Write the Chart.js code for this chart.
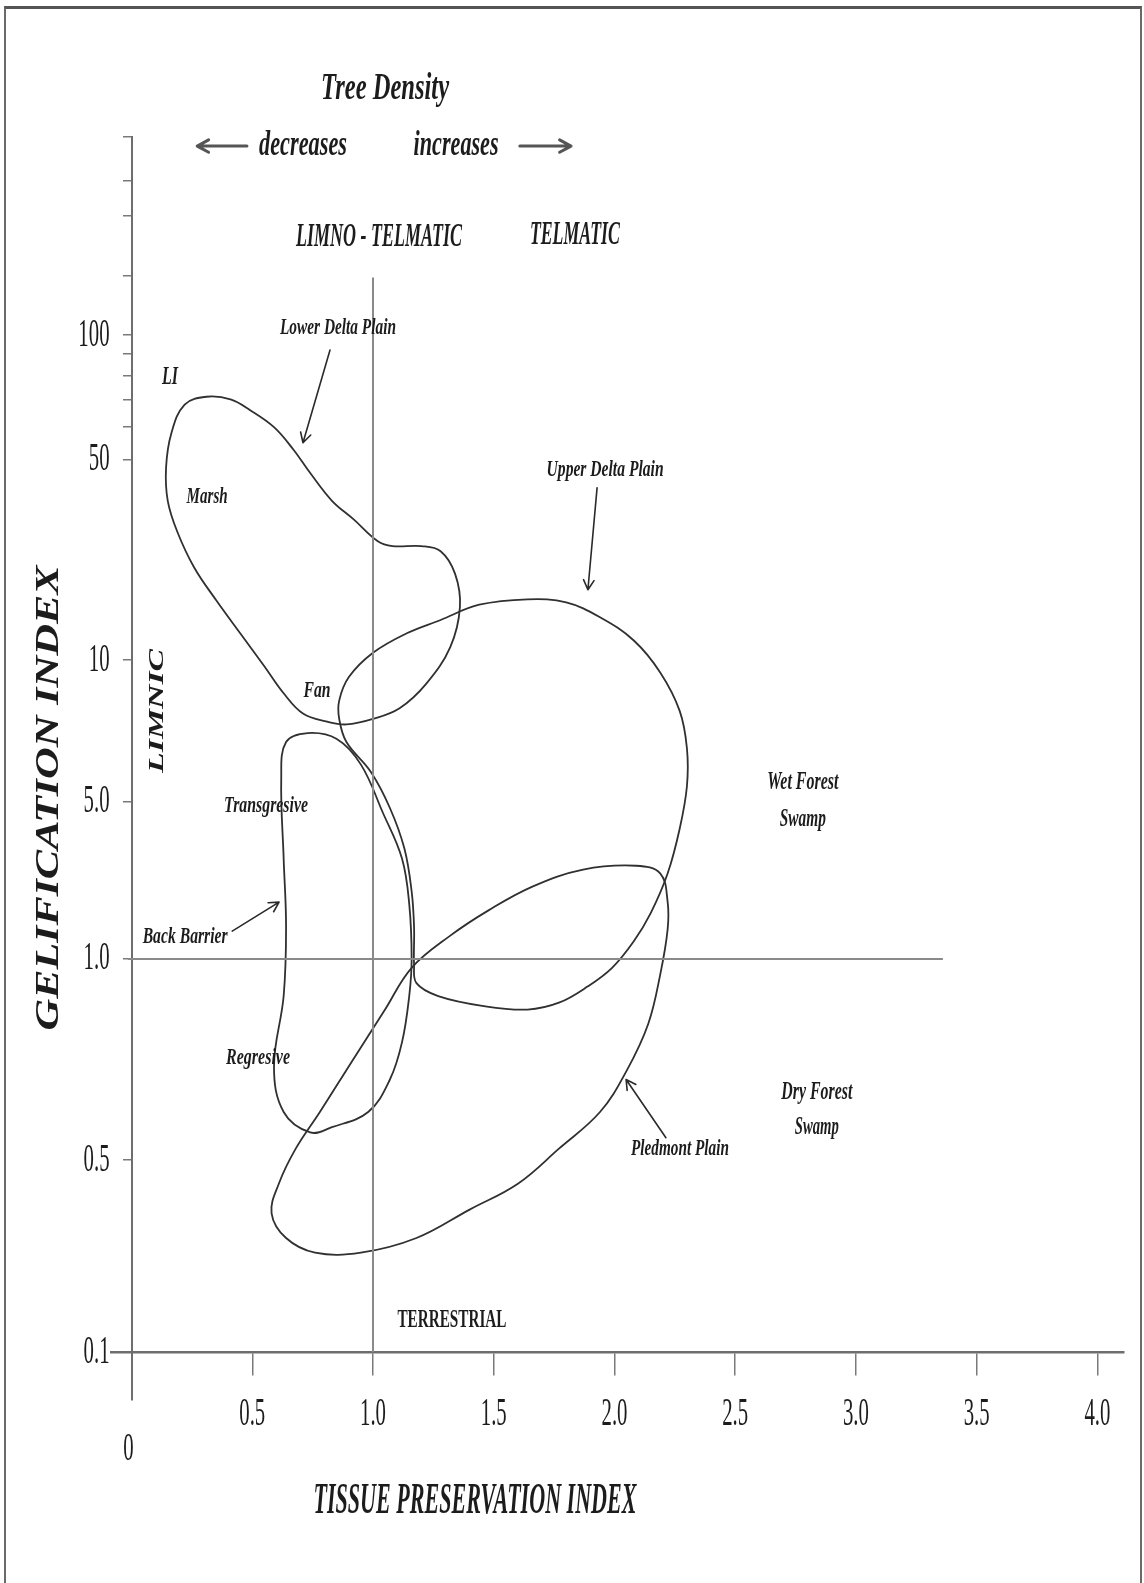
<!DOCTYPE html>
<html>
<head>
<meta charset="utf-8">
<title>Gelification index vs tissue preservation index</title>
<script src="https://cdn.jsdelivr.net/npm/chart.js@4.4.1/dist/chart.umd.min.js"></script>
<style>
  html, body { margin: 0; padding: 0; background: #fff; overflow: hidden; }
  #wrap { position: relative; width: 1144px; height: 1583px; }
  #frame { position: absolute; left: 4px; top: 6px; width: 1134px; height: 1600px;
    border: 2px solid #6a6a6a; border-top: 3px solid #555; pointer-events: none; }
</style>
</head>
<body>
<div id="wrap">
  <canvas id="chart" width="1144" height="1583"></canvas>
  <div id="frame"></div>
</div>
<script>
const { Chart } = window;

// The GI axis in the figure is drawn by hand: each labelled value has its own height
// (fraction of the axis, measured from the bottom); between them it is logarithmic.
const GI_AXIS_VALUES = [0.07, 0.1, 0.5, 1, 5, 10, 50, 100, 1000];
const GI_AXIS_FRACTIONS = [0, 0.038, 0.19, 0.3492, 0.4735, 0.5859, 0.7443, 0.8432, 1];

const GI_TICKS = [0.1, 0.5, 1, 5, 10, 50, 100];
const GI_TICK_LABELS = ['0.1', '0.5', '1.0', '5.0', '10', '50', '100'];
const GI_MINOR_TICKS = [60, 70, 80, 90, 200, 400, 600, 1000];

const TPI_TICKS = [0, 0.5, 1, 1.5, 2, 2.5, 3, 3.5, 4];
const TPI_TICK_LABELS = ['0', '0.5', '1.0', '1.5', '2.0', '2.5', '3.0', '3.5', '4.0'];

// outlines (TPI, GI)
const LOWER_DELTA_TPI = [0.31, 0.41, 0.49, 0.59, 0.67, 0.74, 0.83, 0.92, 1.02, 1.08, 1.20, 1.28, 1.34, 1.36, 1.32,
  1.22, 1.11, 1.00, 0.89, 0.81, 0.71, 0.63, 0.55, 0.45, 0.35, 0.26, 0.19, 0.15, 0.143, 0.165, 0.22];
const LOWER_DELTA_GI = [71, 70, 66, 60, 53, 45, 36, 31, 26, 25, 25, 24, 20, 15.3, 11.1,
  8.9, 7.9, 7.5, 7.3, 7.4, 7.7, 8.5, 9.7, 12.4, 16.2, 21, 28, 36, 47, 58, 68];

const UPPER_DELTA_TPI = [1.64, 1.80, 1.94, 2.08, 2.19, 2.27, 2.30, 2.30, 2.27, 2.22, 2.15, 2.08, 1.99, 1.89, 1.77,
  1.64, 1.46, 1.27, 1.18, 1.17, 1.17, 1.16, 1.13, 1.07, 0.99, 0.89, 0.86, 0.86, 0.90, 1.00, 1.14, 1.28, 1.44];
const UPPER_DELTA_GI = [16.3, 15.9, 14.1, 11.7, 9.4, 7.8, 6.5, 5.4, 3.8, 2.4, 1.6, 1.2, 0.97, 0.91, 0.86,
  0.84, 0.85, 0.88, 0.92, 0.98, 1.39, 2.0, 3.1, 4.7, 5.8, 6.7, 7.5, 8.2, 9.2, 10.6, 12.4, 13.8, 15.6];

const BACK_BARRIER_TPI = [0.73, 0.85, 0.95, 1.04, 1.12, 1.15, 1.16, 1.15, 1.12, 1.07,
  0.98, 0.83, 0.74, 0.63, 0.59, 0.63, 0.64, 0.63, 0.62, 0.64];
const BACK_BARRIER_GI = [7.0, 6.8, 6.0, 4.5, 2.8, 1.76, 1.0, 0.88, 0.75, 0.66,
  0.59, 0.56, 0.55, 0.59, 0.69, 0.88, 1.39, 2.8, 5.6, 6.7];

const PIEDMONT_TPI = [1.16, 1.32, 1.48, 1.66, 1.87, 2.09, 2.19, 2.22, 2.22, 2.19, 2.14, 2.05, 1.94,
  1.77, 1.60, 1.40, 1.18, 0.95, 0.76, 0.64, 0.58, 0.61, 0.68, 0.78, 0.91, 1.05];
const PIEDMONT_GI = [0.97, 1.27, 1.65, 2.1, 2.5, 2.6, 2.4, 1.8, 1.35, 0.95, 0.80, 0.68, 0.59,
  0.52, 0.41, 0.33, 0.26, 0.23, 0.23, 0.26, 0.32, 0.41, 0.52, 0.59, 0.70, 0.84];

// dividing lines TPI = 1 and GI = 1
const TPI_ONE_TPI = [1, 1];
const TPI_ONE_GI = [0.1, 195];
const GI_ONE_TPI = [-0.015, 3.36];
const GI_ONE_GI = [1, 1];

const LABELS = [
  { text: 'Tree Density', tpi: 1.05, gi: 1750, size: 38, width: 128 },
  { text: 'decreases', tpi: 0.71, gi: 900, size: 36, width: 88 },
  { text: 'increases', tpi: 1.344, gi: 900, size: 36, width: 85 },
  { text: 'LIMNO - TELMATIC', tpi: 1.025, gi: 313, size: 34, width: 166 },
  { text: 'TELMATIC', tpi: 1.836, gi: 320, size: 34, width: 90 },
  { text: 'Lower Delta Plain', tpi: 0.855, gi: 108, size: 23, width: 116 },
  { text: 'LI', tpi: 0.159, gi: 79, size: 26, width: 16 },
  { text: 'Marsh', tpi: 0.313, gi: 37, size: 23, width: 41 },
  { text: 'Upper Delta Plain', tpi: 1.961, gi: 46, size: 23, width: 117 },
  { text: 'Fan', tpi: 0.768, gi: 8.6, size: 23, width: 27 },
  { text: 'LIMNIC', tpi: 0.106, gi: 7.8, size: 22, width: 124, rotate: -Math.PI / 2 },
  { text: 'Transgresive', tpi: 0.557, gi: 4.8, size: 23, width: 84 },
  { text: 'Wet Forest', tpi: 2.78, gi: 5.5, size: 25, width: 71 },
  { text: 'Swamp', tpi: 2.78, gi: 4.16, size: 25, width: 46 },
  { text: 'Back Barrier', tpi: 0.222, gi: 1.25, size: 23, width: 85 },
  { text: 'Regresive', tpi: 0.524, gi: 0.71, size: 23, width: 64 },
  { text: 'Dry Forest', tpi: 2.838, gi: 0.63, size: 25, width: 71 },
  { text: 'Swamp', tpi: 2.838, gi: 0.56, size: 25, width: 44 },
  { text: 'Pledmont Plain', tpi: 2.271, gi: 0.52, size: 23, width: 98 },
  { text: 'TERRESTRIAL', tpi: 1.327, gi: 0.13, size: 25, width: 109, italic: false },
];

const ARROWS = [
  { from: [0.478, 900], to: [0.272, 900], width: 3, head: 13, color: '#555' },
  { from: [1.608, 900], to: [1.82, 900], width: 3, head: 13, color: '#555' },
  { from: [0.822, 92], to: [0.71, 55] },
  { from: [1.928, 40], to: [1.89, 17.6] },
  { from: [0.417, 1.33], to: [0.611, 1.79] },
  { from: [2.213, 0.54], to: [2.048, 0.66] },
];

const SERIF = '"Liberation Serif", "DejaVu Serif", serif';

const giToFraction = (value) => {
  const v = Math.log10(Math.max(value, 1e-6));
  const stops = GI_AXIS_VALUES.map(Math.log10);
  let i = 1;
  while (i < stops.length - 1 && v > stops[i]) i += 1;
  const t = (v - stops[i - 1]) / (stops[i] - stops[i - 1]);
  return GI_AXIS_FRACTIONS[i - 1] + t * (GI_AXIS_FRACTIONS[i] - GI_AXIS_FRACTIONS[i - 1]);
};

const fractionToGi = (f) => {
  const stops = GI_AXIS_VALUES.map(Math.log10);
  let i = 1;
  while (i < stops.length - 1 && f > GI_AXIS_FRACTIONS[i]) i += 1;
  const t = (f - GI_AXIS_FRACTIONS[i - 1]) / (GI_AXIS_FRACTIONS[i] - GI_AXIS_FRACTIONS[i - 1]);
  return 10 ** (stops[i - 1] + t * (stops[i] - stops[i - 1]));
};

class GelificationScale extends Chart.Scale {
  determineDataLimits() {
    this.min = GI_AXIS_VALUES[0];
    this.max = GI_AXIS_VALUES[GI_AXIS_VALUES.length - 1];
  }

  buildTicks() {
    return [...GI_TICKS, ...GI_MINOR_TICKS].sort((a, b) => a - b).map((value) => ({ value }));
  }

  getLabelForValue(value) {
    return String(value);
  }

  getPixelForValue(value) {
    return this.getPixelForDecimal(giToFraction(value));
  }

  getValueForPixel(pixel) {
    return fractionToGi(this.getDecimalForPixel(pixel));
  }
}
GelificationScale.id = 'gelification';
GelificationScale.defaults = {};
Chart.register(GelificationScale);

const toPoints = (tpi, gi) => tpi.map((x, i) => ({ x, y: gi[i] }));

const outline = (label, tpi, gi) => ({
  label,
  data: toPoints(tpi, gi),
  showLine: true,
  closed: true,
  borderColor: '#303030',
  borderWidth: 1.8,
  tension: 0.38,
  pointRadius: 0,
});

const divider = (label, tpi, gi) => ({
  label,
  data: toPoints(tpi, gi),
  showLine: true,
  borderColor: '#8a8a8a',
  borderWidth: 2,
  tension: 0,
  pointRadius: 0,
});

// close the outlines into smooth loops, as the radar chart does
const closedLoopPlugin = {
  id: 'closedLoop',
  afterDatasetUpdate(chart, { index, meta }) {
    if (chart.data.datasets[index].closed && meta.dataset) {
      meta.dataset._loop = true;
      meta.dataset._fullLoop = true;
    }
  },
};

const drawCondensed = (ctx, text, x, y, opts) => {
  const { size, width, italic = true, bold = true, rotate = 0, align = 'center', squeeze = 0.55 } = opts;
  ctx.save();
  ctx.font = `${italic ? 'italic ' : ''}${bold ? 'bold ' : ''}${size}px ${SERIF}`;
  const sx = width ? width / ctx.measureText(text).width : squeeze;
  ctx.translate(x, y);
  if (rotate) ctx.rotate(rotate);
  ctx.scale(sx, 1);
  ctx.textAlign = align;
  ctx.textBaseline = 'middle';
  ctx.fillStyle = '#1c1c1c';
  ctx.fillText(text, 0, 0);
  ctx.restore();
};

const drawArrow = (ctx, x1, y1, x2, y2, { width = 1.6, head = 11, color = '#2a2a2a' } = {}) => {
  const angle = Math.atan2(y2 - y1, x2 - x1);
  ctx.save();
  ctx.strokeStyle = color;
  ctx.lineWidth = width;
  ctx.lineCap = 'round';
  ctx.lineJoin = 'round';
  ctx.beginPath();
  ctx.moveTo(x1, y1);
  ctx.lineTo(x2, y2);
  ctx.moveTo(x2 - head * Math.cos(angle - 0.5), y2 - head * Math.sin(angle - 0.5));
  ctx.lineTo(x2, y2);
  ctx.lineTo(x2 - head * Math.cos(angle + 0.5), y2 - head * Math.sin(angle + 0.5));
  ctx.stroke();
  ctx.restore();
};

const diagramTextPlugin = {
  id: 'diagramText',
  afterDraw(chart) {
    const { ctx, scales: { x, y } } = chart;
    const axisX = x.getPixelForValue(0);
    const axisY = y.getPixelForValue(0.1);

    ARROWS.forEach((a) => {
      drawArrow(ctx, x.getPixelForValue(a.from[0]), y.getPixelForValue(a.from[1]),
        x.getPixelForValue(a.to[0]), y.getPixelForValue(a.to[1]), a);
    });

    LABELS.forEach((l) => {
      drawCondensed(ctx, l.text, x.getPixelForValue(l.tpi), y.getPixelForValue(l.gi), l);
    });

    // tick labels
    x.ticks.forEach((tick) => {
      const px = x.getPixelForValue(tick.value);
      const py = tick.value === 0 ? axisY + 97 : axisY + 62;
      drawCondensed(ctx, tick.label, tick.value === 0 ? px - 3 : px, py,
        { size: 40, italic: false, bold: false, squeeze: 0.52 });
    });
    y.ticks.forEach((tick) => {
      if (!tick.label) return;
      drawCondensed(ctx, tick.label, axisX - 22, y.getPixelForValue(tick.value),
        { size: 40, italic: false, bold: false, squeeze: 0.52, align: 'right' });
    });

    // axis titles
    drawCondensed(ctx, 'GELIFICATION INDEX', axisX - 82, 798,
      { size: 34, width: 465, rotate: -Math.PI / 2 });
    drawCondensed(ctx, 'TISSUE PRESERVATION INDEX', 475, axisY + 150, { size: 44, width: 323 });
  },
};

const axisGrid = (tickLength) => ({
  drawOnChartArea: false,
  drawTicks: true,
  tickLength,
  color: '#7a7a7a',
  lineWidth: 1.5,
});

new Chart(document.getElementById('chart'), {
  type: 'scatter',
  data: {
    datasets: [
      divider('TPI = 1', TPI_ONE_TPI, TPI_ONE_GI),
      divider('GI = 1', GI_ONE_TPI, GI_ONE_GI),
      outline('Lower Delta Plain', LOWER_DELTA_TPI, LOWER_DELTA_GI),
      outline('Upper Delta Plain', UPPER_DELTA_TPI, UPPER_DELTA_GI),
      outline('Back Barrier', BACK_BARRIER_TPI, BACK_BARRIER_GI),
      outline('Piedmont Plain', PIEDMONT_TPI, PIEDMONT_GI),
    ],
  },
  options: {
    responsive: false,
    animation: false,
    devicePixelRatio: 1,
    layout: { padding: { left: 111, right: 20, top: 137, bottom: 183 } },
    plugins: {
      legend: { display: false },
      tooltip: { enabled: false },
    },
    elements: { point: { radius: 0 } },
    scales: {
      x: {
        type: 'linear',
        min: -0.085,
        max: 4.11,
        position: { y: 0.1 },
        afterBuildTicks: (scale) => {
          scale.ticks = TPI_TICKS.map((value) => ({ value }));
        },
        grid: axisGrid(22),
        border: { color: '#6e6e6e', width: 2.5 },
        ticks: {
          display: false,
          callback: (value) => TPI_TICK_LABELS[TPI_TICKS.indexOf(value)] ?? '',
        },
      },
      y: {
        type: 'gelification',
        position: { x: 0 },
        grid: axisGrid(8),
        border: { color: '#6e6e6e', width: 2 },
        ticks: {
          display: false,
          autoSkip: false,
          callback: (value) => {
            const i = GI_TICKS.indexOf(value);
            return i >= 0 ? GI_TICK_LABELS[i] : '';
          },
        },
      },
    },
  },
  plugins: [closedLoopPlugin, diagramTextPlugin],
});
</script>
</body>
</html>
